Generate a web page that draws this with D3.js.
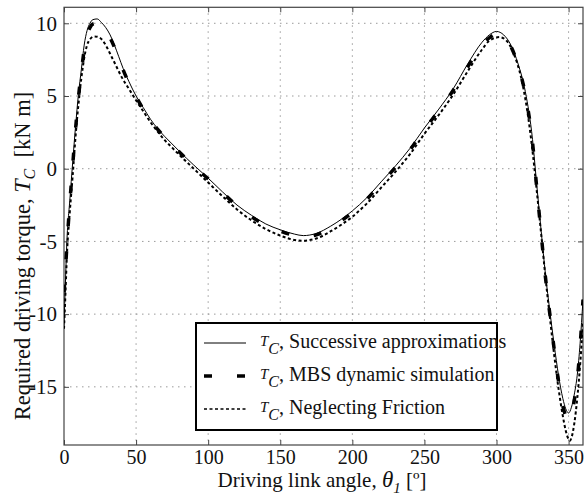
<!DOCTYPE html>
<html><head><meta charset="utf-8">
<script src="https://cdn.jsdelivr.net/npm/d3@7"></script>
<style>body{margin:0;background:#fff}svg{display:block} text{font-family:'Liberation Serif','Times New Roman',serif !important}</style>
</head><body>
<script>
// ---- data ----
const angleSA = [0,1,2,4,6,8,10,12,14,16,18,20,23,26,29,32,35,38,41,45,50,55,60,65,70,75,80,90,100,110,120,130,140,150,160,166,175,185,200,210,220,230,240,250,260,270,280,290,295,300,305,310,315,320,325,328,331,334,337,340,343,346,348,350,352,354,356,358,360];
const torqueSA = [-10.8,-7.8,-5.0,-2.2,0.4,2.9,5.1,6.8,8.5,9.5,10.0,10.25,10.3,10.05,9.7,9.2,8.5,7.7,6.9,6.0,5.0,4.2,3.4,2.75,2.2,1.7,1.2,0.25,-0.65,-1.6,-2.5,-3.2,-3.8,-4.2,-4.5,-4.6,-4.45,-3.95,-2.9,-2.0,-0.9,0.2,1.4,2.8,4.1,5.5,7.2,8.7,9.2,9.44,9.2,8.5,7.2,5.3,2.0,-1.2,-4.3,-7.3,-9.8,-12.1,-14.2,-15.8,-16.5,-16.8,-16.4,-15.5,-14.2,-12.0,-9.0];

const angleMBS = [0,1,2,4,6,8,10,12,14,16,18,20,23,26,29,32,35,38,41,45,50,55,60,65,70,75,80,90,100,110,120,130,140,150,160,166,175,185,200,210,220,230,240,250,260,270,280,290,295,300,305,310,315,320,325,328,331,334,337,340,343,346,348,350,352,354,356,358,360];
const torqueMBS = [-8.5,-7.0,-5.3,-2.4,0.2,2.7,4.9,6.6,8.2,9.2,9.7,9.95,10.0,9.8,9.5,9.0,8.35,7.6,6.8,5.9,4.95,4.1,3.35,2.7,2.15,1.65,1.15,0.2,-0.7,-1.65,-2.55,-3.3,-3.9,-4.3,-4.6,-4.7,-4.55,-4.05,-3.0,-2.1,-1.0,0.1,1.3,2.7,4.0,5.4,7.0,8.5,9.0,9.25,9.05,8.4,7.1,5.1,1.8,-1.4,-4.5,-7.5,-10.0,-12.4,-14.6,-16.3,-17.0,-17.3,-16.9,-15.9,-14.5,-12.2,-9.0];

const angleNF = [0,1,2,4,6,8,10,12,14,16,18,21,24,27,30,33,36,40,45,50,55,60,65,70,75,80,90,100,110,120,130,140,150,160,165,175,185,200,210,220,230,240,250,260,270,280,290,295,302,307,312,317,321,325,328,331,334,337,340,343,346,348,350,351,352,354,356,358,360];
const torqueNF = [-11.0,-8.6,-6.0,-3.0,-0.5,2.2,4.4,6.2,7.6,8.5,8.9,9.1,9.05,8.8,8.3,7.7,7.1,6.3,5.5,4.7,3.95,3.2,2.55,1.95,1.45,0.95,0.0,-0.95,-1.9,-2.8,-3.55,-4.15,-4.6,-4.9,-4.95,-4.8,-4.3,-3.3,-2.4,-1.3,-0.2,1.0,2.4,3.7,5.1,6.7,8.2,8.8,9.05,8.8,7.9,6.3,4.2,1.2,-1.6,-4.5,-7.5,-10.2,-12.8,-15.1,-17.0,-18.0,-18.6,-18.7,-18.5,-17.5,-15.8,-13.5,-10.5];

const xTicks = [0,50,100,150,200,250,300,350];
const yTicks = [-15,-10,-5,0,5,10];
const legendLabels = ["Successive approximations","MBS dynamic simulation","Neglecting Friction"];

// ---- layout ----
const W = 587, H = 497;
const L = 64, R = 583, T = 7.3, B = 445;
const font = "'Liberation Serif','Times New Roman',serif";

const svg = d3.select("body").append("svg").attr("width", W).attr("height", H)
  .attr("font-family", font);

const x = d3.scaleLinear().domain([0, 360]).range([L, R]);
const y = d3.scaleLinear().domain([-19, 11.1]).range([B, T]);

// grid
const grid = svg.append("g");
grid.selectAll("line.gx").data(xTicks.filter(d => d > 0)).join("line")
  .attr("x1", d => x(d)).attr("x2", d => x(d)).attr("y1", T).attr("y2", B)
  .attr("stroke", "#9a9a9a").attr("stroke-width", 1).attr("stroke-dasharray", "1.5,4.5");
grid.selectAll("line.gy").data(yTicks).join("line")
  .attr("y1", d => y(d)).attr("y2", d => y(d)).attr("x1", L).attr("x2", R)
  .attr("stroke", "#9a9a9a").attr("stroke-width", 1).attr("stroke-dasharray", "1.5,4.5");

// axes (inward ticks, box)
const axB = d3.axisBottom(x).tickValues(xTicks).tickSizeInner(-5).tickSizeOuter(0).tickPadding(5);
const axT = d3.axisTop(x).tickValues(xTicks).tickSizeInner(-5).tickSizeOuter(0).tickFormat("");
const axL = d3.axisLeft(y).tickValues(yTicks).tickSizeInner(-5).tickSizeOuter(0).tickPadding(7);
const axR = d3.axisRight(y).tickValues(yTicks).tickSizeInner(-5).tickSizeOuter(0).tickFormat("");

function styleAxis(g) {
  g.attr("font-family", font).attr("font-size", 21);
  g.select(".domain").remove();
  g.selectAll(".tick line").attr("stroke", "#444");
  g.selectAll(".tick text").attr("fill", "#111");
}
svg.append("g").attr("transform", `translate(0,${B})`).call(axB).call(styleAxis)
  .attr("font-size", 20);
svg.append("g").attr("transform", `translate(0,${T})`).call(axT).call(styleAxis);
svg.append("g").attr("transform", `translate(${L},0)`).call(axL).call(styleAxis)
  .selectAll(".tick text").text(d => d < 0 ? "-" + Math.abs(d) : d);
svg.append("g").attr("transform", `translate(${R},0)`).call(axR).call(styleAxis);

svg.append("rect").attr("x", L).attr("y", T).attr("width", R - L).attr("height", B - T)
  .attr("fill", "none").attr("stroke", "#444").attr("stroke-width", 1.2);

// curves
svg.append("clipPath").attr("id", "pc").append("rect")
  .attr("x", L).attr("y", T).attr("width", R - L).attr("height", B - T);
const line = d3.line().x(d => x(d[0])).y(d => y(d[1])).curve(d3.curveMonotoneX);
const plot = svg.append("g").attr("clip-path", "url(#pc)");

plot.append("path").datum(d3.zip(angleNF, torqueNF)).attr("d", line)
  .attr("fill", "none").attr("stroke", "#000").attr("stroke-width", 2).attr("stroke-dasharray", "3,2.5");
plot.append("path").datum(d3.zip(angleMBS, torqueMBS)).attr("d", line)
  .attr("fill", "none").attr("stroke", "#000").attr("stroke-width", 3.5).attr("stroke-dasharray", "8,25");
plot.append("path").datum(d3.zip(angleSA, torqueSA)).attr("d", line)
  .attr("fill", "none").attr("stroke", "#000").attr("stroke-width", 1);

// legend
const lg = svg.append("g");
lg.append("rect").attr("x", 196).attr("y", 323).attr("width", 301).attr("height", 107)
  .attr("fill", "#fff").attr("stroke", "#000").attr("stroke-width", 2);
const rows = [343, 376, 409];
const styles = [
  {w: 1, dash: null},
  {w: 3.5, dash: "8,25"},
  {w: 1.6, dash: "3,2.5"}
];
rows.forEach((ry, i) => {
  lg.append("line").attr("x1", 204).attr("x2", 246).attr("y1", ry).attr("y2", ry)
    .attr("stroke", "#000").attr("stroke-width", styles[i].w)
    .attr("stroke-dasharray", styles[i].dash);
  const t = lg.append("text").attr("x", 260).attr("y", ry + 5).attr("font-size", 20).attr("fill", "#111");
  t.append("tspan").text("T").attr("font-style", "italic").attr("font-size", 15).attr("dy", -2);
  t.append("tspan").text("C").attr("font-style", "italic").attr("font-size", 16).attr("dy", 8);
  t.append("tspan").text(", " + legendLabels[i]).attr("dy", -6);
});

// axis labels
const xl = svg.append("text").attr("x", 322).attr("y", 487).attr("text-anchor", "middle")
  .attr("font-size", 21).attr("fill", "#111");
xl.append("tspan").text("Driving link angle, ");
xl.append("tspan").text("θ").attr("font-style", "italic").attr("font-size", 23);
xl.append("tspan").text("1").attr("font-style", "italic").attr("font-size", 15).attr("dy", 6);
xl.append("tspan").text(" [º]").attr("dy", -6);

const yl = svg.append("text").attr("transform", "translate(30,256) rotate(-90)")
  .attr("text-anchor", "middle").attr("font-size", 22.5).attr("fill", "#111");
yl.append("tspan").text("Required driving torque, ");
yl.append("tspan").text("T").attr("font-style", "italic").attr("font-size", 24);
yl.append("tspan").text("C").attr("font-style", "italic").attr("font-size", 16).attr("dy", 5);
yl.append("tspan").text("\u00a0\u00a0[kN m]").attr("dy", -5);
</script>
</body></html>
